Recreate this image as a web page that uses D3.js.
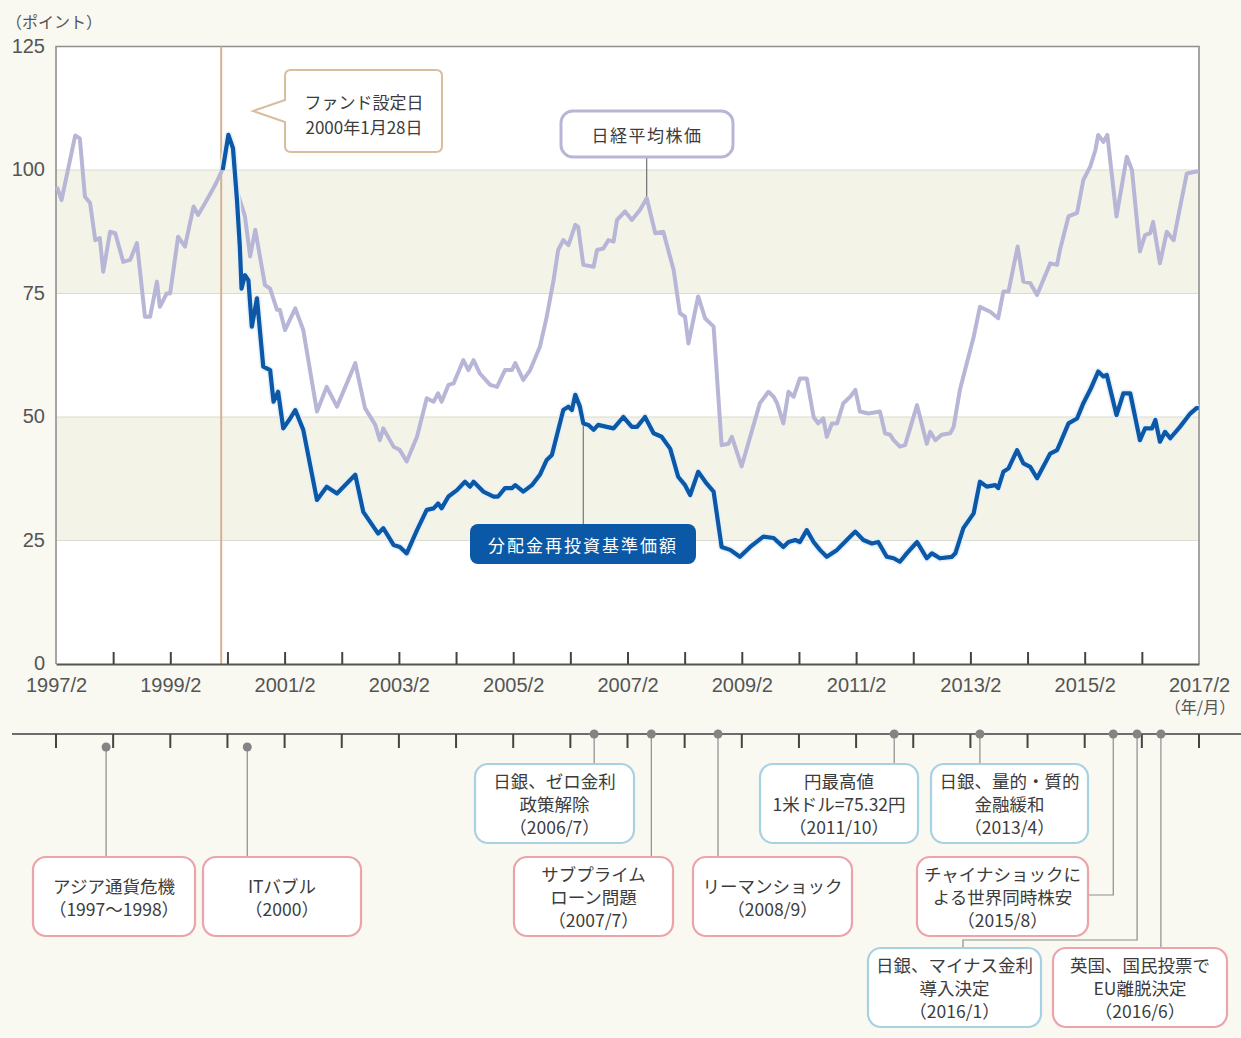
<!DOCTYPE html>
<html>
<head>
<meta charset="utf-8">
<script src="https://cdn.jsdelivr.net/npm/d3@7"></script>
<style>
  body { margin: 0; background: #f9f8f1; }
  svg text { font-family: "Noto Sans CJK JP", "Noto Sans", sans-serif; }
  svg .num text { font-family: "Liberation Sans", "DejaVu Sans", sans-serif; }
</style>
</head>
<body>
<div id="chart"></div>
<script>

// data (decimal year, points)
const NIKKEI_T = [1997.10, 1997.18, 1997.42, 1997.50, 1997.59, 1997.68, 1997.77, 1997.85, 1997.91, 1998.03,
  1998.12, 1998.26, 1998.38, 1998.50, 1998.64, 1998.73, 1998.85, 1998.90, 1999.02, 1999.08,
  1999.22, 1999.34, 1999.49, 1999.57, 1999.72, 1999.87, 1999.98, 2000.10, 2000.18, 2000.27,
  2000.39, 2000.48, 2000.57, 2000.74, 2000.83, 2000.95, 2001.00, 2001.09, 2001.27, 2001.41,
  2001.65, 2001.82, 2002.00, 2002.32, 2002.49, 2002.67, 2002.75, 2002.81, 2002.99, 2003.10,
  2003.22, 2003.40, 2003.57, 2003.69, 2003.77, 2003.83, 2003.95, 2004.04, 2004.21, 2004.30,
  2004.39, 2004.50, 2004.68, 2004.80, 2004.94, 2005.06, 2005.12, 2005.26, 2005.38, 2005.55,
  2005.67, 2005.79, 2005.87, 2005.96, 2006.05, 2006.17, 2006.22, 2006.31, 2006.49, 2006.55,
  2006.66, 2006.75, 2006.84, 2006.90, 2007.04, 2007.16, 2007.30, 2007.42, 2007.57, 2007.71,
  2007.89, 2008.00, 2008.09, 2008.15, 2008.32, 2008.44, 2008.59, 2008.73, 2008.85, 2008.91,
  2009.08, 2009.23, 2009.40, 2009.55, 2009.64, 2009.70, 2009.81, 2009.90, 2009.99, 2010.10,
  2010.22, 2010.34, 2010.42, 2010.51, 2010.57, 2010.66, 2010.75, 2010.86, 2010.98, 2011.07,
  2011.15, 2011.30, 2011.50, 2011.59, 2011.68, 2011.74, 2011.85, 2011.94, 2012.15, 2012.32,
  2012.38, 2012.47, 2012.58, 2012.73, 2012.79, 2012.90, 2013.02, 2013.14, 2013.25, 2013.43,
  2013.57, 2013.66, 2013.75, 2013.91, 2014.01, 2014.13, 2014.25, 2014.48, 2014.60, 2014.65,
  2014.80, 2014.95, 2015.06, 2015.18, 2015.27, 2015.32, 2015.41, 2015.48, 2015.64, 2015.82,
  2015.91, 2016.05, 2016.14, 2016.23, 2016.28, 2016.40, 2016.52, 2016.64, 2016.72, 2016.87,
  2017.04, 2017.08];
const NIKKEI_V = [96.6, 93.9, 107.0, 106.4, 94.6, 93.3, 85.8, 86.2, 79.4, 87.5,
  87.2, 81.4, 81.8, 85.2, 70.3, 70.3, 77.4, 72.3, 75.0, 75.0,
  86.5, 84.5, 92.6, 90.9, 93.9, 97.0, 99.7, 107.1, 104.4, 95.0,
  90.6, 82.5, 87.9, 76.7, 76.0, 71.7, 71.7, 67.6, 72.0, 67.6,
  51.1, 56.1, 52.1, 60.9, 51.8, 48.4, 45.3, 47.7, 44.0, 43.3,
  41.0, 46.0, 53.8, 53.1, 54.8, 53.1, 56.5, 56.8, 61.5, 59.5,
  61.5, 58.8, 56.5, 56.1, 59.5, 59.5, 60.9, 57.5, 59.5, 64.2,
  70.3, 77.7, 83.8, 85.8, 84.8, 88.9, 88.5, 80.8, 80.4, 83.8,
  84.1, 85.8, 85.5, 89.9, 91.6, 89.9, 91.9, 94.3, 87.2, 87.5,
  79.8, 71.0, 70.3, 64.9, 74.4, 70.0, 68.3, 44.3, 44.6, 46.0,
  40.0, 46.0, 52.8, 55.1, 54.1, 52.8, 48.7, 55.1, 54.1, 57.8,
  57.8, 50.0, 48.7, 49.7, 46.0, 48.7, 48.7, 52.8, 54.1, 55.5,
  51.1, 50.7, 51.1, 46.7, 46.4, 45.3, 44.0, 44.3, 52.4, 44.6,
  47.0, 45.3, 46.4, 46.7, 48.0, 55.5, 60.9, 66.2, 72.3, 71.3,
  70.0, 75.4, 75.4, 84.5, 77.4, 77.1, 74.7, 81.1, 80.8, 83.8,
  90.6, 91.3, 98.0, 100.7, 104.0, 107.1, 105.7, 107.1, 90.6, 102.7,
  100.0, 83.5, 86.8, 87.2, 89.5, 81.1, 87.5, 85.8, 90.6, 99.3,
  99.7, 99.7];

const FUND_T = [2000.00, 2000.10, 2000.18, 2000.25, 2000.30, 2000.33, 2000.39, 2000.45, 2000.51, 2000.60,
  2000.71, 2000.83, 2000.89, 2000.97, 2001.06, 2001.18, 2001.27, 2001.41, 2001.65, 2001.82,
  2002.00, 2002.32, 2002.46, 2002.72, 2002.81, 2002.99, 2003.10, 2003.22, 2003.40, 2003.57,
  2003.69, 2003.77, 2003.83, 2003.95, 2004.10, 2004.24, 2004.33, 2004.39, 2004.56, 2004.74,
  2004.82, 2004.94, 2005.06, 2005.12, 2005.26, 2005.41, 2005.55, 2005.67, 2005.76, 2005.85,
  2005.96, 2006.05, 2006.11, 2006.17, 2006.25, 2006.31, 2006.40, 2006.49, 2006.57, 2006.72,
  2006.84, 2007.01, 2007.16, 2007.25, 2007.39, 2007.54, 2007.68, 2007.83, 2007.97, 2008.09,
  2008.18, 2008.32, 2008.47, 2008.59, 2008.73, 2008.88, 2009.05, 2009.23, 2009.46, 2009.64,
  2009.81, 2009.90, 2010.02, 2010.10, 2010.22, 2010.34, 2010.45, 2010.57, 2010.75, 2010.92,
  2011.07, 2011.21, 2011.36, 2011.47, 2011.62, 2011.74, 2011.85, 2011.97, 2012.15, 2012.32,
  2012.41, 2012.55, 2012.76, 2012.82, 2012.96, 2013.14, 2013.25, 2013.37, 2013.52, 2013.57,
  2013.66, 2013.75, 2013.90, 2014.01, 2014.13, 2014.25, 2014.48, 2014.60, 2014.65, 2014.80,
  2014.95, 2015.06, 2015.18, 2015.32, 2015.41, 2015.47, 2015.64, 2015.76, 2015.88, 2016.05,
  2016.14, 2016.26, 2016.32, 2016.40, 2016.49, 2016.58, 2016.75, 2016.93, 2017.04, 2017.08];
const FUND_V = [100.0, 107.1, 104.4, 93.9, 84.5, 76.0, 78.7, 77.7, 68.3, 74.0,
  60.2, 59.5, 53.1, 55.1, 47.7, 49.7, 51.4, 47.4, 33.2, 35.9,
  34.5, 38.3, 30.8, 26.4, 27.5, 24.1, 23.7, 22.4, 27.1, 31.2,
  31.5, 32.5, 31.5, 33.9, 35.2, 36.9, 35.9, 36.9, 34.9, 33.9,
  33.9, 35.6, 35.6, 36.2, 34.9, 36.2, 38.3, 41.3, 42.3, 46.4,
  51.4, 52.1, 51.4, 54.5, 52.1, 48.7, 48.4, 47.4, 48.4, 48.0,
  47.7, 50.0, 48.0, 48.0, 50.0, 46.7, 46.0, 43.6, 37.9, 36.2,
  34.2, 38.9, 36.5, 34.9, 23.7, 23.1, 21.7, 23.7, 25.8, 25.5,
  23.7, 24.7, 25.1, 24.7, 27.1, 24.7, 23.1, 21.7, 23.1, 25.1,
  26.8, 25.1, 24.4, 24.7, 21.7, 21.4, 20.7, 22.4, 24.7, 21.4,
  22.4, 21.4, 21.7, 22.4, 27.5, 30.5, 36.9, 35.9, 36.2, 35.6,
  38.9, 39.6, 43.3, 40.6, 39.9, 37.6, 42.6, 43.3, 44.6, 48.7,
  49.7, 52.8, 55.5, 59.2, 58.2, 58.5, 50.4, 54.8, 54.8, 45.3,
  47.7, 47.7, 49.4, 45.0, 47.0, 45.7, 48.0, 50.7, 51.8, 51.8];

const Y_TICKS = [0, 25, 50, 75, 100, 125];
const TICK_YEARS = d3.range(1997, 2018);              // every February
const X_LABEL_YEARS = d3.range(1997, 2018, 2);
const FUND_START = 2000 + 0 / 12;                       // 2000/1
const FUND_START_TEXT = ["ファンド設定日", "2000年1月28日"];
const NIKKEI_NAME = "日経平均株価";
const FUND_NAME = "分配金再投資基準価額";
const NIKKEI_NAME_T = 2007.42;
const FUND_NAME_T = 2006.31;

const EVENT_T = [1997.96, 2000.43, 2006.5, 2007.5, 2008.667, 2011.75, 2013.25, 2015.583, 2016.0, 2016.417];
const EVENT_TEXT = [
  ["アジア通貨危機", "（1997〜1998）"],
  ["ITバブル", "（2000）"],
  ["日銀、ゼロ金利", "政策解除", "（2006/7）"],
  ["サブプライム", "ローン問題", "（2007/7）"],
  ["リーマンショック", "（2008/9）"],
  ["円最高値", "1米ドル=75.32円", "（2011/10）"],
  ["日銀、量的・質的", "金融緩和", "（2013/4）"],
  ["チャイナショックに", "よる世界同時株安", "（2015/8）"],
  ["日銀、マイナス金利", "導入決定", "（2016/1）"],
  ["英国、国民投票で", "EU離脱決定", "（2016/6）"]
];
const EVENT_KIND = ["red", "red", "blue", "red", "red", "blue", "blue", "red", "blue", "red"];

// layout
const FRAME_WIDTH = 1241;
const FRAME_HEIGHT = 1038;
const PLOT = {left: 56, right: 1199, top: 46.5, bottom: 664};
const TIMELINE_Y = 734;
const COLORS = {red: "#eaa4aa", blue: "#a8d2e3", nikkei: "#b7b6d6", fund: "#0b58a6",
                band: "#f4f3e8", grid: "#dcdbd2", text: "#3c3c3c", axis: "#555"};

// box positions for the event notes (x, y, width, height)
const EVENT_BOX = [
  [33, 857, 162, 79], [203, 857, 158, 79], [475, 764, 159, 79], [514, 857, 159, 79],
  [693, 857, 159, 79], [760, 764, 158, 79], [931, 764, 157, 79], [917, 857, 171, 79],
  [868, 948, 173, 79], [1053, 948, 174, 79]
];

const FRAME = d3.select("#chart")
  .append("svg")
    .attr("width", FRAME_WIDTH)
    .attr("height", FRAME_HEIGHT);

FRAME.append("rect")
  .attr("width", FRAME_WIDTH).attr("height", FRAME_HEIGHT)
  .attr("fill", "#f9f8f1");

const X_SCALE = d3.scaleLinear()
  .domain([1997 + 1 / 12, 2017 + 1 / 12])
  .range([PLOT.left, PLOT.right]);

const Y_SCALE = d3.scaleLinear()
  .domain([0, 125])
  .range([PLOT.bottom, PLOT.top]);

// plot background + bands
FRAME.append("rect")
  .attr("x", PLOT.left).attr("y", PLOT.top)
  .attr("width", PLOT.right - PLOT.left).attr("height", PLOT.bottom - PLOT.top)
  .attr("fill", "#fff");

FRAME.selectAll(".band")
  .data([[25, 50], [75, 100]])
  .enter()
  .append("rect")
    .attr("x", PLOT.left)
    .attr("y", (d) => Y_SCALE(d[1]))
    .attr("width", PLOT.right - PLOT.left)
    .attr("height", (d) => Y_SCALE(d[0]) - Y_SCALE(d[1]))
    .attr("fill", COLORS.band);

FRAME.selectAll(".grid")
  .data([25, 50, 75, 100])
  .enter()
  .append("line")
    .attr("x1", PLOT.left).attr("x2", PLOT.right)
    .attr("y1", (d) => Y_SCALE(d)).attr("y2", (d) => Y_SCALE(d))
    .attr("stroke", COLORS.grid).attr("stroke-width", 1.2);

// frame (left, top, right)
FRAME.append("path")
  .attr("d", "M" + PLOT.left + "," + PLOT.bottom + "V" + PLOT.top + "H" + PLOT.right + "V" + PLOT.bottom)
  .attr("fill", "none").attr("stroke", "#8f8f8f").attr("stroke-width", 1.6);

// fund start line
FRAME.append("line")
  .attr("x1", X_SCALE(FUND_START) - 1.5).attr("x2", X_SCALE(FUND_START) - 1.5)
  .attr("y1", PLOT.top).attr("y2", PLOT.bottom)
  .attr("stroke", "#d3b291").attr("stroke-width", 2);

// lines
const nikkeiData = NIKKEI_T.map((t, i) => ({t: t, v: NIKKEI_V[i]}));
const fundData = FUND_T.map((t, i) => ({t: t, v: FUND_V[i]}));

const line = d3.line()
  .x((d) => X_SCALE(d.t))
  .y((d) => Y_SCALE(d.v));

FRAME.append("path")
  .datum(nikkeiData)
  .attr("d", line)
  .attr("fill", "none").attr("stroke", COLORS.nikkei)
  .attr("stroke-width", 4).attr("stroke-linejoin", "round");

FRAME.append("path")
  .datum(fundData)
  .attr("d", line)
  .attr("fill", "none").attr("stroke", "#e6f0fa").attr("stroke-opacity", 0.9)
  .attr("stroke-width", 7.5).attr("stroke-linejoin", "round");

FRAME.append("path")
  .datum(fundData)
  .attr("d", line)
  .attr("fill", "none").attr("stroke", COLORS.fund)
  .attr("stroke-width", 4.2).attr("stroke-linejoin", "round");

// x axis
const xAxis = FRAME.append("g")
  .attr("class", "num")
  .attr("transform", "translate(0," + PLOT.bottom + ")")
  .call(d3.axisBottom(X_SCALE)
    .tickValues(TICK_YEARS.map((y) => y + 1 / 12))
    .tickSize(-12).tickSizeOuter(0).tickPadding(14)
    .tickFormat((d) => {
      let y = Math.round(d - 1 / 12);
      return X_LABEL_YEARS.includes(y) ? y + "/2" : "";
    }));
xAxis.select(".domain").attr("stroke", COLORS.axis).attr("stroke-width", 1.8);
xAxis.selectAll(".tick line").attr("stroke", "#444").attr("stroke-width", 2);
xAxis.selectAll(".tick text").attr("font-size", 20).attr("fill", COLORS.axis);
xAxis.selectAll(".tick").filter((d, i) => i == 0 || i == TICK_YEARS.length - 1)
  .select("line").remove();

FRAME.append("text")
  .attr("x", 1200).attr("y", 713)
  .attr("text-anchor", "middle")
  .attr("font-size", 16).attr("fill", COLORS.axis)
  .text("（年/月）");

// y axis
const yAxis = FRAME.append("g")
  .attr("class", "num")
  .attr("transform", "translate(" + PLOT.left + ",0)")
  .call(d3.axisLeft(Y_SCALE).tickValues(Y_TICKS).tickSize(0).tickPadding(11));
yAxis.select(".domain").remove();
yAxis.selectAll(".tick text").attr("font-size", 20).attr("fill", COLORS.axis).attr("dy", "0.28em");

FRAME.append("text")
  .attr("x", 6).attr("y", 28)
  .attr("font-size", 16).attr("fill", COLORS.axis)
  .text("（ポイント）");

// fund start callout
FRAME.append("path")
  .attr("d", "M292,70H436Q442,70 442,76V146Q442,152 436,152H291Q285,152 285,146V122L253,111L285,100V76Q285,70 291,70Z")
  .attr("fill", "#fff").attr("stroke", "#d9bd9f").attr("stroke-width", 2);

FRAME.selectAll(".fundStartText")
  .data(FUND_START_TEXT)
  .enter()
  .append("text")
    .attr("x", 364)
    .attr("y", (d, i) => 101 + i * 25)
    .attr("dominant-baseline", "central")
    .attr("text-anchor", "middle")
    .attr("font-size", 17).attr("fill", COLORS.text)
    .text((d) => d);

// series name labels
function valueAt(T, V, t) {
  let i = d3.minIndex(T, (d) => Math.abs(d - t));
  return V[i];
}

const nx = X_SCALE(NIKKEI_NAME_T);
FRAME.append("line")
  .attr("x1", nx).attr("x2", nx)
  .attr("y1", 157).attr("y2", Y_SCALE(valueAt(NIKKEI_T, NIKKEI_V, NIKKEI_NAME_T)) - 2)
  .attr("stroke", "#555").attr("stroke-width", 1);
FRAME.append("rect")
  .attr("x", 561).attr("y", 111).attr("width", 172).attr("height", 46).attr("rx", 12)
  .attr("fill", "#fff").attr("stroke", COLORS.nikkei).attr("stroke-width", 3);
FRAME.append("text")
  .attr("x", 647).attr("y", 134)
  .attr("dominant-baseline", "central").attr("text-anchor", "middle")
  .attr("font-size", 17).attr("letter-spacing", 1.5).attr("fill", COLORS.text)
  .text(NIKKEI_NAME);

const fx = X_SCALE(FUND_NAME_T);
FRAME.append("line")
  .attr("x1", fx).attr("x2", fx)
  .attr("y1", 524).attr("y2", Y_SCALE(valueAt(FUND_T, FUND_V, FUND_NAME_T)) + 2)
  .attr("stroke", "#777").attr("stroke-width", 1.2);
FRAME.append("rect")
  .attr("x", 470).attr("y", 524).attr("width", 226).attr("height", 40).attr("rx", 8)
  .attr("fill", COLORS.fund);
FRAME.append("text")
  .attr("x", 583).attr("y", 544)
  .attr("dominant-baseline", "central").attr("text-anchor", "middle")
  .attr("font-size", 17).attr("letter-spacing", 2).attr("fill", "#fff")
  .text(FUND_NAME);

// timeline
FRAME.append("line")
  .attr("x1", 12).attr("x2", FRAME_WIDTH)
  .attr("y1", TIMELINE_Y).attr("y2", TIMELINE_Y)
  .attr("stroke", "#6d6d6d").attr("stroke-width", 1.8);

FRAME.selectAll(".tlTick")
  .data(TICK_YEARS)
  .enter()
  .append("line")
    .attr("x1", (d) => X_SCALE(d + 1 / 12)).attr("x2", (d) => X_SCALE(d + 1 / 12))
    .attr("y1", TIMELINE_Y).attr("y2", TIMELINE_Y + 14)
    .attr("stroke", "#444").attr("stroke-width", 2);

// connectors from dots to boxes
function connector(i) {
  let x = X_SCALE(EVENT_T[i]);
  let b = EVENT_BOX[i];
  let y0 = i < 2 ? TIMELINE_Y + 13 : TIMELINE_Y;
  if (i == 7) return "M" + x + "," + y0 + "V" + (b[1] + 38) + "H" + (b[0] + b[2]);
  if (i == 8) return "M" + x + "," + y0 + "V" + (b[1] - 8) + "H" + (b[0] + 95) + "V" + b[1];
  return "M" + x + "," + y0 + "V" + b[1];
}

FRAME.selectAll(".conn")
  .data(EVENT_T)
  .enter()
  .append("path")
    .attr("d", (d, i) => connector(i))
    .attr("fill", "none").attr("stroke", "#8c8c8c").attr("stroke-width", 1.2);

FRAME.selectAll(".dot")
  .data(EVENT_T)
  .enter()
  .append("circle")
    .attr("cx", (d) => X_SCALE(d))
    .attr("cy", (d, i) => i < 2 ? TIMELINE_Y + 13 : TIMELINE_Y)
    .attr("r", 4.5)
    .attr("fill", "#848484");

const boxes = FRAME.selectAll(".event")
  .data(EVENT_TEXT)
  .enter()
  .append("g");

boxes.append("rect")
  .attr("x", (d, i) => EVENT_BOX[i][0])
  .attr("y", (d, i) => EVENT_BOX[i][1])
  .attr("width", (d, i) => EVENT_BOX[i][2])
  .attr("height", (d, i) => EVENT_BOX[i][3])
  .attr("rx", 13)
  .attr("fill", "#fff")
  .attr("stroke", (d, i) => COLORS[EVENT_KIND[i]])
  .attr("stroke-width", 2.2);

boxes.each(function(lines, i) {
  let b = EVENT_BOX[i];
  let cx = b[0] + b[2] / 2;
  let cy = b[1] + b[3] / 2;
  d3.select(this).selectAll("text")
    .data(lines)
    .enter()
    .append("text")
      .attr("x", cx)
      .attr("y", (d, j) => cy + (j - (lines.length - 1) / 2) * 23)
      .attr("dominant-baseline", "central")
      .attr("text-anchor", "middle")
      .attr("font-size", 17.5)
      .attr("fill", COLORS.text)
      .text((d) => d);
});

</script>
</body>
</html>
